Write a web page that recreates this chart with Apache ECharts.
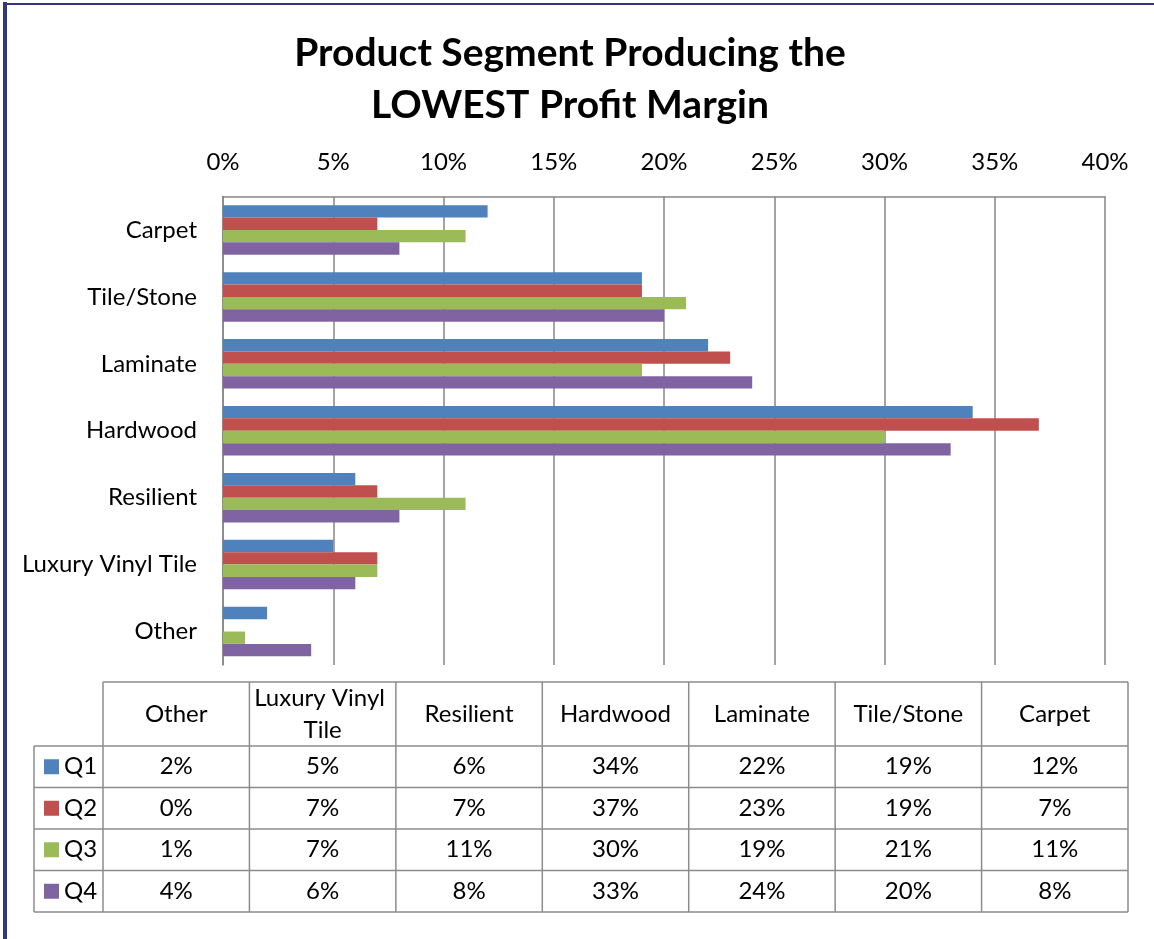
<!DOCTYPE html>
<html>
<head>
<meta charset="utf-8">
<script src="https://cdn.jsdelivr.net/npm/echarts@6/dist/echarts.min.js"></script>
<style>
  html, body { margin: 0; padding: 0; background: #fff; }
  #chart { width: 1154px; height: 939px; }
</style>
</head>
<body>
<div id="chart"></div>
<script>
// Product segments (bottom to top on the chart, left to right in the table)
const categories = ['Other', 'Luxury Vinyl Tile', 'Resilient', 'Hardwood', 'Laminate', 'Tile/Stone', 'Carpet'];
const seriesNames = ['Q1', 'Q2', 'Q3', 'Q4'];
// Percent of respondents per quarter
const q1 = [2, 5, 6, 34, 22, 19, 12];
const q2 = [0, 7, 7, 37, 23, 19, 7];
const q3 = [1, 7, 11, 30, 19, 21, 11];
const q4 = [4, 6, 8, 33, 24, 20, 8];
const seriesValues = [q1, q2, q3, q4];
const colors = ['#4F81BD', '#C0504D', '#9BBB59', '#8064A2'];
const axisMax = 40;
const axisStep = 5;

const FONT = 'Lato';
const chart = echarts.init(document.getElementById('chart'));

// Data table beneath the plot
const tbl = { left: 34, legendRight: 103, right: 1128, top: 682, headerBottom: 746, rowH: 41.5 };
const colW = (tbl.right - tbl.legendRight) / categories.length;
const lineStyle = { stroke: '#8c8c8c', lineWidth: 1.5 };
const graphics = [];

function hLine(x1, x2, y) {
  graphics.push({ type: 'line', shape: { x1, y1: y, x2, y2: y }, style: lineStyle, z: 10 });
}
function vLine(x, y1, y2) {
  graphics.push({ type: 'line', shape: { x1: x, y1, x2: x, y2 }, style: lineStyle, z: 10 });
}
const tableBottom = tbl.headerBottom + tbl.rowH * seriesNames.length;
hLine(tbl.legendRight, tbl.right, tbl.top);
for (let r = 0; r <= seriesNames.length; r++) {
  hLine(tbl.left, tbl.right, tbl.headerBottom + r * tbl.rowH);
}
vLine(tbl.left, tbl.headerBottom, tableBottom);
for (let c = 0; c <= categories.length; c++) {
  vLine(tbl.legendRight + c * colW, tbl.top, tableBottom);
}
categories.forEach((cat, c) => {
  graphics.push({
    type: 'text', z: 11,
    style: {
      text: cat, x: tbl.legendRight + (c + 0.5) * colW, y: (tbl.top + tbl.headerBottom) / 2,
      width: colW - 8, overflow: 'break', lineHeight: 32,
      align: 'center', verticalAlign: 'middle',
      font: '24px ' + FONT, fill: '#000'
    }
  });
});
seriesNames.forEach((name, r) => {
  const cy = tbl.headerBottom + (r + 0.5) * tbl.rowH;
  graphics.push({
    type: 'rect', z: 11,
    shape: { x: 44, y: cy - 7.5, width: 15, height: 15 },
    style: { fill: colors[r] }
  });
  graphics.push({
    type: 'text', z: 11,
    style: { text: name, x: 64, y: cy, verticalAlign: 'middle', font: '24px ' + FONT, fill: '#000' }
  });
  seriesValues[r].forEach((v, c) => {
    graphics.push({
      type: 'text', z: 11,
      style: {
        text: v + '%', x: tbl.legendRight + (c + 0.5) * colW, y: cy,
        align: 'center', verticalAlign: 'middle', font: '24px ' + FONT, fill: '#000'
      }
    });
  });
});

// Frame on the left and top edges
graphics.push({ type: 'line', shape: { x1: 5, y1: 2, x2: 5, y2: 939 }, style: { stroke: '#36367a', lineWidth: 4 }, z: 12 });
graphics.push({ type: 'line', shape: { x1: 3, y1: 4, x2: 1154, y2: 4 }, style: { stroke: '#36367a', lineWidth: 2 }, z: 12 });

chart.setOption({
  animation: false,
  textStyle: { fontFamily: FONT },
  title: {
    text: 'Product Segment Producing the\nLOWEST Profit Margin',
    left: 565, top: 22, textAlign: 'center',
    textStyle: { fontFamily: FONT, fontWeight: 'bold', fontSize: 39, lineHeight: 52, color: '#000' }
  },
  grid: { left: 223, right: 49, top: 196.5, bottom: 274, containLabel: false },
  xAxis: {
    type: 'value', position: 'top', min: 0, max: axisMax, interval: axisStep,
    axisLine: { show: true, lineStyle: { color: '#868686', width: 1.5 } },
    axisTick: { show: false },
    splitLine: { show: true, lineStyle: { color: '#868686', width: 1.5 } },
    axisLabel: { formatter: '{value}%', fontSize: 24, color: '#000', margin: 22 }
  },
  yAxis: {
    type: 'category', data: categories,
    axisLine: { show: true, lineStyle: { color: '#868686', width: 1.5 } },
    axisTick: { show: false },
    axisLabel: { fontSize: 24, color: '#000', margin: 26 }
  },
  series: seriesNames.map((name, i) => ({
    name, type: 'bar', data: seriesValues[i],
    barGap: '0%', barCategoryGap: '26%',
    itemStyle: { color: colors[i] }
  })),
  graphic: graphics
});
</script>
</body>
</html>
